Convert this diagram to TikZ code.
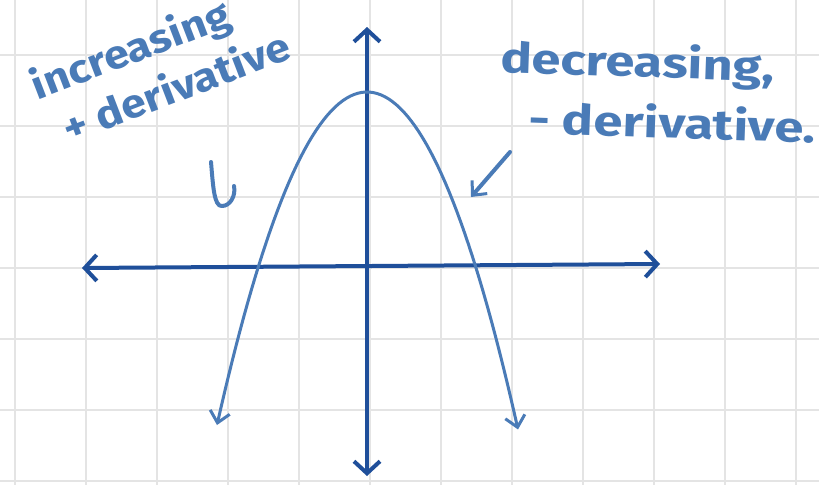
\documentclass[tikz,border=0pt]{standalone}
\usepackage{fontspec}
\setmainfont{Fira Sans}
\newfontfamily\leftpen[FakeStretch=1.12]{Fira Sans}
\newfontfamily\rightpen[FakeStretch=1.25]{Fira Sans}
\usetikzlibrary{positioning,arrows.meta}
\definecolor{axisblue}{HTML}{1F4F9A}
\definecolor{penblue}{HTML}{4A7BB7}
\definecolor{gridgrey}{HTML}{E4E4E4}

\begin{document}
\begin{tikzpicture}[x=1pt,y=-1pt,
  axisbarb/.tip={Straight Barb[length=12pt,width=26pt,line width=4pt]},
  curvebarb/.tip={Straight Barb[length=11pt,width=20pt,line width=3pt]},
  gridline/.style={gridgrey,line width=2.5pt},
  axisline/.style={axisblue,line width=4pt,line cap=round,{axisbarb}-{axisbarb}},
  curveline/.style={penblue,line width=3pt,line cap=round,{curvebarb}-{curvebarb}},
  pointer/.style={penblue,line width=4pt,line cap=round,line join=round},
  handtext/.style={penblue,inner sep=0pt,align=left}]
\useasboundingbox (0,0) rectangle (819,485);
\fill[white] (0,0) rectangle (819,485);
% background grid
\foreach \gx in {15,86,...,819} \draw[gridline] (\gx,0) -- (\gx,485);
\foreach \gy in {55,126,...,485} \draw[gridline] (0,\gy) -- (819,\gy);

% axes
\coordinate (ytop) at (367,27);
\coordinate (ybot) at (367,476);
\coordinate (xleft) at (82,268);
\coordinate (xright) at (660,264);
\draw[axisline] (ybot) -- (ytop);
\draw[axisline] (xleft) -- (xright);

% parabola
\draw[curveline] plot[domain=-15:15.1,samples=80] ({367+10*\x},{92+1.48*\x*\x});

% labels
\node[handtext,rotate=21,anchor=base west,
  font=\leftpen\bfseries\fontsize{40}{52}\selectfont] (incr) at (56,149)
  {increasing\\\hspace*{14pt}+ derivative};
\node[handtext,rotate=-2,anchor=base west,
  font=\rightpen\bfseries\fontsize{42}{60}\selectfont] (decr) at (498,132)
  {decreasing,\\\hspace*{30pt}- derivative.};

% pointers
\coordinate (lp1) at (211,162);
\coordinate (lp2) at (222,206);
\coordinate (lp3) at (234,186);
\draw[pointer] (lp1) .. controls (213,185) and (214,207) .. (lp2)
  .. controls (230,206) and (236,196) .. (lp3);
\coordinate (rp1) at (510,152);
\coordinate (rp2) at (471,197);
\draw[pointer,-{curvebarb}] (rp1) -- (rp2);
\end{tikzpicture}
\end{document}
